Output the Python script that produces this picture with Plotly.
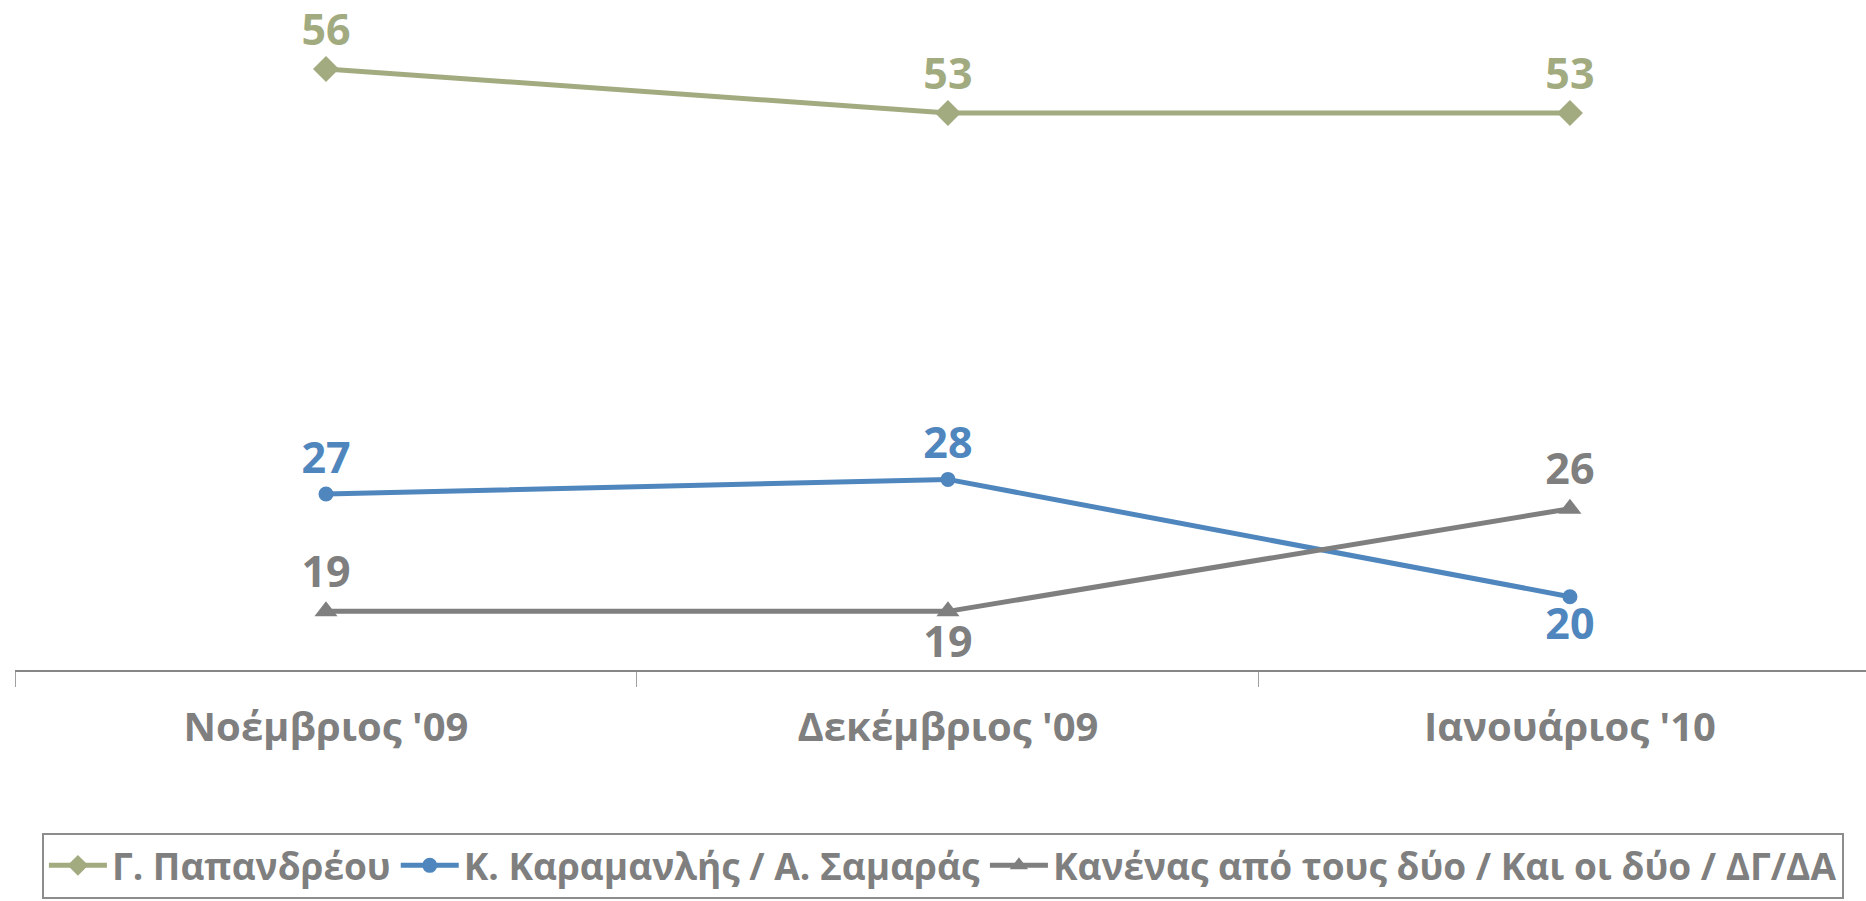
import plotly.graph_objects as go

categories = ["Νοέμβριος '09", "Δεκέμβριος '09", "Ιανουάριος '10"]
papandreou = [56, 53, 53]
karamanlis = [27, 28, 20]
kanenas = [19, 19, 26]

names = ["Γ. Παπανδρέου", "Κ. Καραμανλής / Α. Σαμαράς",
         "Κανένας από τους δύο / Και οι δύο / ΔΓ/ΔΑ"]
colors = ["#A2AB80", "#4F86BD", "#7F7F7F"]
symbols = ["diamond", "circle", "triangle-up"]
msizes = [20, 15, 20]
textpos = [["top center"] * 3,
           ["top center", "top center", "bottom center"],
           ["top center", "bottom center", "top center"]]

FONT = "Open Sans"
fig = go.Figure()
for vals, name, c, s, ms, tp in zip([papandreou, karamanlis, kanenas], names,
                                   colors, symbols, msizes, textpos):
    fig.add_trace(go.Scatter(
        x=categories, y=vals, name=name, mode="lines+markers+text",
        line=dict(color=c, width=5),
        marker=dict(symbol=s, size=ms, color=c),
        text=[str(v) for v in vals], textposition=tp,
        textfont=dict(family=FONT, size=43, color=c, weight="bold"),
        cliponaxis=False,
    ))

fig.update_layout(
    width=1866, height=901,
    margin=dict(l=15, r=0, t=0, b=231, autoexpand=False),
    paper_bgcolor="white", plot_bgcolor="white",
    font=dict(family=FONT, color="#7F7F7F", size=36, weight="bold"),
    showlegend=True,
    legend=dict(orientation="h", x=0.5013, xanchor="center", y=-0.243,
                yanchor="top", bordercolor="#8C8C8C", borderwidth=2,
                itemwidth=58,
                font=dict(family=FONT, size=37, color="#7F7F7F", weight="bold"),
                traceorder="normal"),
    xaxis=dict(type="category", categoryorder="array", categoryarray=categories,
               range=[-0.5, 2.476], showgrid=False, zeroline=False,
               showline=True, linecolor="#868686", linewidth=2,
               ticks="outside", ticklen=15, tickcolor="#A0A0A0", tickwidth=1,
               tickson="boundaries", ticklabelstandoff=21,
               tickfont=dict(family=FONT, size=40, color="#7F7F7F", weight="bold")),
    yaxis=dict(range=[15, 60.7], visible=False),
)
fig.write_html("out.html", config={"displayModeBar": False},
               post_script="document.body.style.margin='0';")
